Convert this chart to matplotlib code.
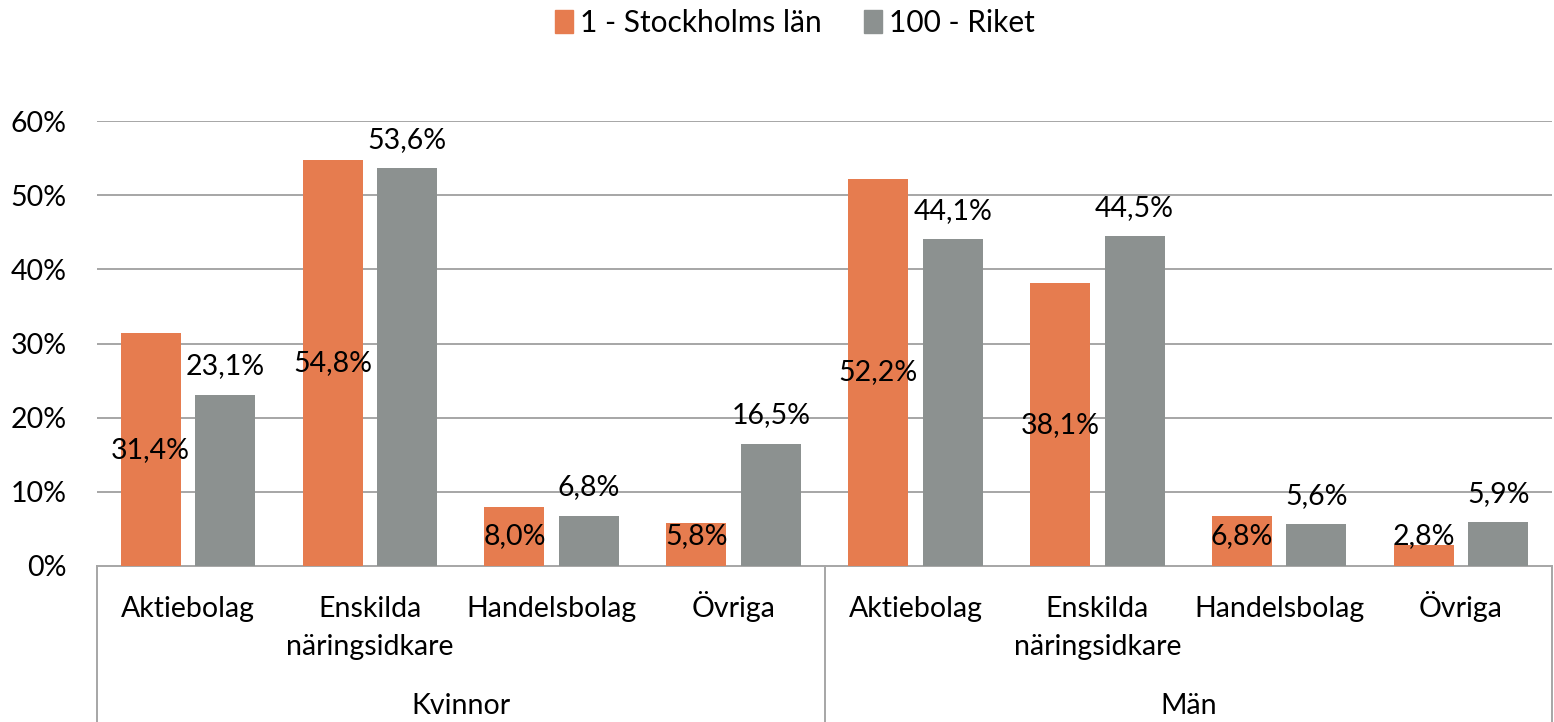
import matplotlib.pyplot as plt
import numpy as np
from matplotlib.patches import Patch

plt.rcParams['font.family'] = ['Lato', 'DejaVu Sans']

# data
kategorier = ["Aktiebolag", "Enskilda\nnäringsidkare", "Handelsbolag", "Övriga",
              "Aktiebolag", "Enskilda\nnäringsidkare", "Handelsbolag", "Övriga"]
grupper = ["Kvinnor", "Män"]
serier = ["1 - Stockholms län", "100 - Riket"]
stockholm = [31.4, 54.8, 8.0, 5.8, 52.2, 38.1, 6.8, 2.8]
riket = [23.1, 53.6, 6.8, 16.5, 44.1, 44.5, 5.6, 5.9]
yticks = [0, 10, 20, 30, 40, 50, 60]

orange = "#E67C4F"
gra = "#8C9190"
linje = "#A6A6A6"
fs = 20.5

fig = plt.figure(figsize=(15.54, 7.22), dpi=100)
ax = fig.add_axes([97/1554, 156/722, 1455/1554, 445/722])

x = np.arange(len(kategorier))
w = 0.33
ax.bar(x - 0.205, stockholm, w, color=orange, zorder=3)
ax.bar(x + 0.205, riket, w, color=gra, zorder=3)

def fmt(v):
    return f"{v:.1f}".replace(".", ",") + "%"

# centrerade etiketter, men inte längre ner än att de ryms ovanför axeln
for xi, v in zip(x, stockholm):
    ax.text(xi - 0.205, max(v / 2, 4.0), fmt(v), ha="center", va="center",
            fontsize=fs, zorder=4)
for xi, v in zip(x, riket):
    ax.annotate(fmt(v), (xi + 0.205, v), xytext=(0, 14.5), textcoords="offset points",
                ha="center", va="baseline", fontsize=fs, zorder=4)

ax.set_xlim(-0.5, len(kategorier) - 0.5)
ax.set_ylim(0, 60)
ax.set_yticks(yticks)
ax.set_yticklabels([f"{t}%" for t in yticks], fontsize=fs)
ax.tick_params(axis="y", length=0, pad=22)
ax.set_xticks([])
for t in yticks[1:]:
    ax.axhline(t, color=linje, lw=1.4, zorder=1)
for s in ["top", "right", "left"]:
    ax.spines[s].set_visible(False)
ax.spines["bottom"].set_color(linje)
ax.spines["bottom"].set_linewidth(1.4)

trans = ax.get_xaxis_transform()
ax_h = 445
for xi, k in zip(x, kategorier):
    for j, rad in enumerate(k.split("\n")):
        ax.text(xi, -(617 - 566 + 38 * j) / ax_h, rad, transform=trans,
                ha="center", va="baseline", fontsize=fs)
for gi, g in enumerate(grupper):
    ax.text(gi * 4 + 1.5, -(714 - 566) / ax_h, g, transform=trans,
            ha="center", va="baseline", fontsize=fs)
for xs in [-0.5, 3.5, 7.5]:
    ax.plot([xs, xs], [0, -0.36], transform=trans, color=linje, lw=1.4, clip_on=False)

handles = [Patch(color=orange, label=serier[0]), Patch(color=gra, label=serier[1])]
fig.legend(handles=handles, loc="center", bbox_to_anchor=(795/1554, 1 - 23/722), ncol=2,
           frameon=False, fontsize=21.5, handlelength=0.6, handleheight=0.8,
           handletextpad=0.25, columnspacing=1.4, borderaxespad=0, borderpad=0)

fig.savefig("out.png", dpi=100)
